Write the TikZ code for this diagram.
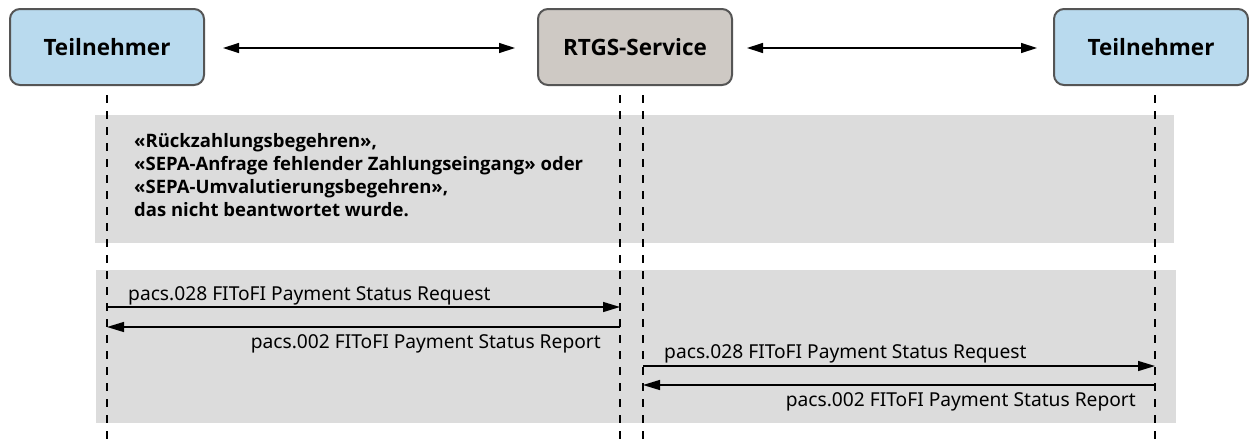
\documentclass[tikz,border=0pt]{standalone}
\usepackage{fontspec}
\setmainfont{Noto Sans}
\newfontfamily\hdfont{Open Sans}
\usetikzlibrary{arrows.meta}
\definecolor{partblue}{RGB}{185,218,238}
\definecolor{svcgray}{RGB}{206,201,196}
\definecolor{bandgray}{RGB}{220,220,220}
\definecolor{edgegray}{RGB}{85,85,85}
\begin{document}
\begin{tikzpicture}[x=1pt,y=-1pt,
  actor/.style={draw=edgegray,line width=2pt,rounded corners=10pt,minimum width=194pt,minimum height=76pt,font=\fontsize{22.5}{26}\selectfont\hdfont\bfseries,inner sep=0pt},
  lifeline/.style={dash pattern=on 8pt off 8pt,line width=1.3pt},
  msg/.style={line width=1.3pt,-{Triangle[length=17pt,width=10pt]}},
  dbl/.style={line width=1.3pt,{Triangle[length=16pt,width=10pt]}-{Triangle[length=16pt,width=10pt]}},
  lbl/.style={font=\fontsize{19.2}{22}\selectfont,inner sep=0pt},
  note/.style={font=\fontsize{18.5}{23}\selectfont\hdfont\bfseries,inner sep=0pt,align=left}]
\useasboundingbox (0,0) rectangle (1249,439);
\fill[white] (0,0) rectangle (1249,439);
% participants
\node[actor,fill=partblue] (p1) at (107,47) {Teilnehmer};
\node[actor,fill=svcgray] (svc) at (635,47) {RTGS-Service};
\node[actor,fill=partblue] (p2) at (1151,47) {Teilnehmer};
% top double arrows
\draw[dbl] ([xshift=18pt,yshift=-1pt]p1.east) -- ([xshift=-22pt,yshift=-1pt]svc.west);
\draw[dbl] ([xshift=14pt,yshift=-1pt]svc.east) -- ([xshift=-16pt,yshift=-1pt]p2.west);
% bands
\fill[bandgray] (95,115) rectangle (1174,243);
\fill[bandgray] (96,270) rectangle (1176,423);
% lifelines
\coordinate (a1) at (107,95); \coordinate (a2) at (107,439);
\coordinate (b1) at (620,95); \coordinate (b2) at (620,439);
\coordinate (c1) at (643,95); \coordinate (c2) at (643,439);
\coordinate (d1) at (1155,95); \coordinate (d2) at (1155,439);
\draw[lifeline] (a1) -- (a2);
\draw[lifeline] (b1) -- (b2);
\draw[lifeline] (c1) -- (c2);
\draw[lifeline] (d1) -- (d2);
% note
\node[note,anchor=north west] (nt) at (134,133) {«Rückzahlungsbegehren»,\\«SEPA-Anfrage fehlender Zahlungseingang» oder\\«SEPA-Umvalutierungsbegehren»,\\das nicht beantwortet wurde.};
% messages left
\coordinate (m1s) at (107,307); \coordinate (m1e) at (620,307);
\coordinate (m2s) at (620,327); \coordinate (m2e) at (107,327);
\draw[msg] (m1s) -- (m1e);
\draw[msg] (m2s) -- (m2e);
\node[lbl,anchor=west] (t1) at (128,296) {pacs.028 FIToFI Payment Status Request};
\node[lbl,anchor=east] (t2) at (601,344) {pacs.002 FIToFI Payment Status Report};
% messages right
\coordinate (m3s) at (643,366); \coordinate (m3e) at (1155,366);
\coordinate (m4s) at (1155,385); \coordinate (m4e) at (643,385);
\draw[msg] (m3s) -- (m3e);
\draw[msg] (m4s) -- (m4e);
\node[lbl,anchor=west] (t3) at (664,354) {pacs.028 FIToFI Payment Status Request};
\node[lbl,anchor=east] (t4) at (1136,402) {pacs.002 FIToFI Payment Status Report};
\end{tikzpicture}
\end{document}
